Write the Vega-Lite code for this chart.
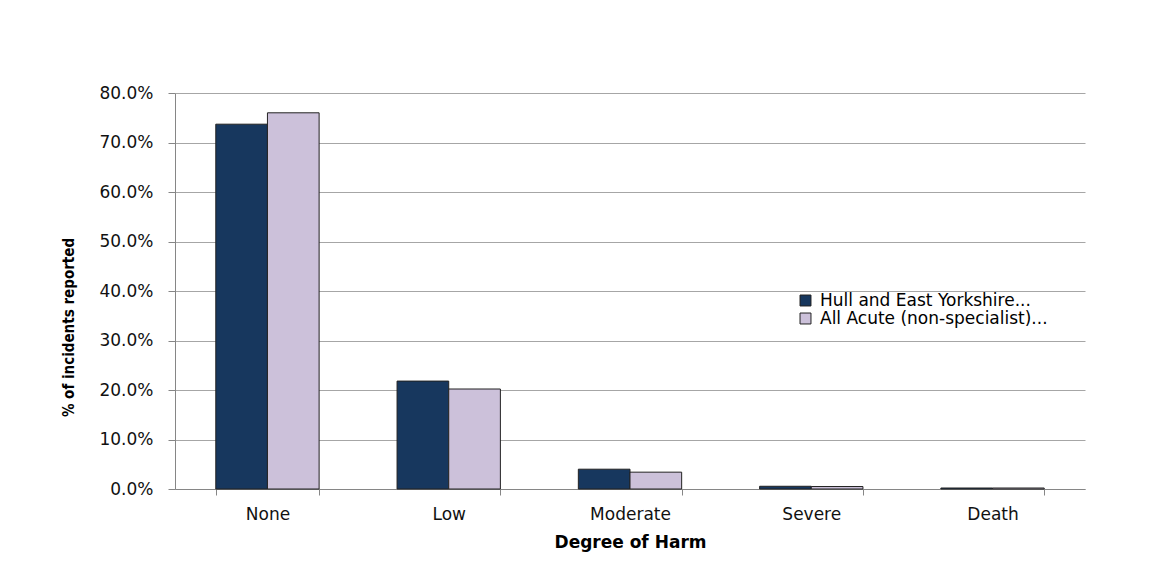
{
  "$schema": "https://vega.github.io/schema/vega-lite/v6.json",
  "autosize": "none",
  "width": 910,
  "height": 396,
  "padding": {"left": 175, "top": 93, "right": 86, "bottom": 79},
  "background": "white",
  "data": {
    "values": [
      {"harm": "None", "series": "Hull and East Yorkshire...", "pct": 0.737},
      {"harm": "None", "series": "All Acute (non-specialist)...", "pct": 0.760},
      {"harm": "Low", "series": "Hull and East Yorkshire...", "pct": 0.218},
      {"harm": "Low", "series": "All Acute (non-specialist)...", "pct": 0.202},
      {"harm": "Moderate", "series": "Hull and East Yorkshire...", "pct": 0.040},
      {"harm": "Moderate", "series": "All Acute (non-specialist)...", "pct": 0.034},
      {"harm": "Severe", "series": "Hull and East Yorkshire...", "pct": 0.0055},
      {"harm": "Severe", "series": "All Acute (non-specialist)...", "pct": 0.005},
      {"harm": "Death", "series": "Hull and East Yorkshire...", "pct": 0.002},
      {"harm": "Death", "series": "All Acute (non-specialist)...", "pct": 0.002}
    ]
  },
  "mark": {"type": "bar", "stroke": "#222222", "strokeWidth": 1},
  "encoding": {
    "x": {
      "field": "harm",
      "type": "nominal",
      "sort": ["None", "Low", "Moderate", "Severe", "Death"],
      "scale": {"paddingInner": 0.43, "paddingOuter": 0.225},
      "axis": {
        "title": "Degree of Harm",
        "titleFont": "DejaVu Sans",
        "titleFontSize": 17,
        "titleFontWeight": "bold",
        "titleColor": "#000000",
        "titlePadding": 12,
        "labelAngle": 0,
        "labelFont": "DejaVu Sans",
        "labelFontSize": 17,
        "labelColor": "#111111",
        "labelPadding": 11,
        "tickBand": "extent",
        "tickSize": 6,
        "tickColor": "#868686",
        "domainColor": "#868686",
        "grid": false
      }
    },
    "xOffset": {
      "field": "series",
      "type": "nominal",
      "sort": ["Hull and East Yorkshire...", "All Acute (non-specialist)..."],
      "scale": {"paddingInner": 0, "paddingOuter": 0}
    },
    "y": {
      "field": "pct",
      "type": "quantitative",
      "scale": {"domain": [0, 0.8], "nice": false},
      "axis": {
        "title": "% of incidents reported",
        "titleFont": "DejaVu Sans Condensed",
        "titleFontSize": 15,
        "titleFontWeight": "bold",
        "titleColor": "#000000",
        "titlePadding": 22,
        "titleY": 234,
        "format": ".1%",
        "values": [0, 0.1, 0.2, 0.3, 0.4, 0.5, 0.6, 0.7, 0.8],
        "labelFont": "DejaVu Sans",
        "labelFontSize": 17,
        "labelColor": "#111111",
        "labelPadding": 15,
        "tickSize": 7,
        "tickColor": "#868686",
        "domainColor": "#868686",
        "gridColor": "#A6A6A6",
        "gridWidth": 1
      }
    },
    "color": {
      "field": "series",
      "type": "nominal",
      "sort": ["Hull and East Yorkshire...", "All Acute (non-specialist)..."],
      "scale": {"range": ["#17375E", "#CCC1DA"]},
      "legend": {
        "title": null,
        "orient": "none",
        "legendX": 622,
        "legendY": 199,
        "symbolType": "square",
        "symbolSize": 120,
        "symbolStrokeColor": "#222222",
        "symbolStrokeWidth": 1,
        "labelFont": "DejaVu Sans",
        "labelFontSize": 17,
        "labelColor": "#000000",
        "labelLimit": 400,
        "labelOffset": 6,
        "rowPadding": 0
      }
    }
  },
  "config": {"view": {"stroke": null}}
}
